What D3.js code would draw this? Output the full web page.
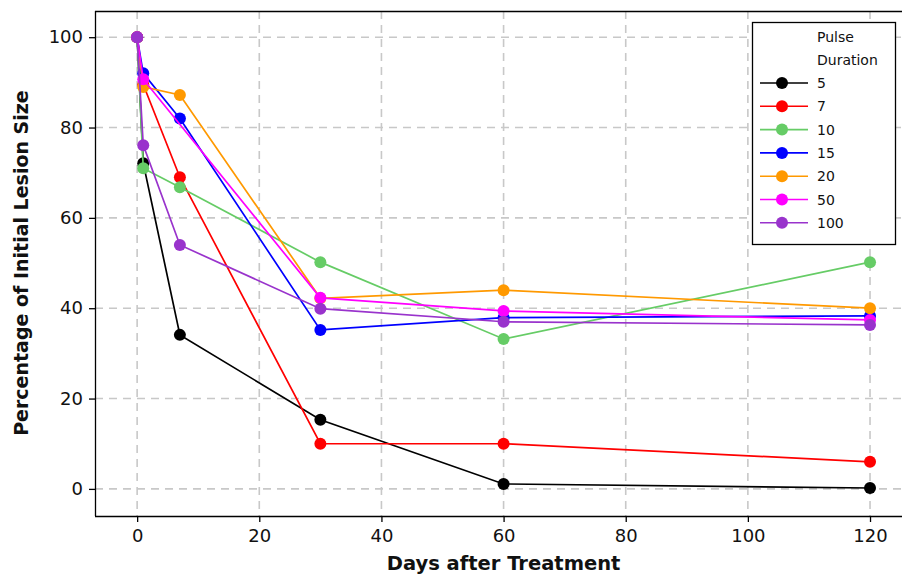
<!DOCTYPE html>
<html>
<head>
<meta charset="utf-8">
<script src="https://cdn.jsdelivr.net/npm/d3@7/dist/d3.min.js"></script>
<style>
  html, body { margin: 0; padding: 0; background: #fff; }
  svg { display: block; font-family: "DejaVu Sans", Verdana, sans-serif; }
</style>
</head>
<body>
<svg id="chart" width="902" height="576"></svg>
<script>
// Days after treatment at which each lesion was measured
const days = [0, 1, 7, 30, 60, 120];

// Pulse durations (legend order) and their colours
const pulseLabels = ["5", "7", "10", "15", "20", "50", "100"];
const pulseColors = ["#000000", "#ff0000", "#66cc66", "#0000ff", "#ff9900", "#ff00ff", "#9933cc"];

// Percentage of initial lesion size per pulse duration (null = not measured)
const pulse5   = [100, 72.1, 34.1, 15.3, 1.1, 0.2];
const pulse7   = [100, 89.5, 69.0, 10.0, 10.0, 6.0];
const pulse10  = [100, 71.0, 66.8, 50.2, 33.2, 50.2];
const pulse15  = [100, 92.0, 82.0, 35.2, 37.9, 38.3];
const pulse20  = [100, 89.0, 87.2, 42.2, 44.0, 40.0];
const pulse50  = [100, 90.7, null, 42.3, 39.4, 37.4];
const pulse100 = [100, 76.1, 54.0, 39.9, 37.0, 36.3];

const seriesValues = [pulse5, pulse7, pulse10, pulse15, pulse20, pulse50, pulse100];

const xTicks = [0, 20, 40, 60, 80, 100, 120];
const yTicks = [0, 20, 40, 60, 80, 100];

const svg = d3.select("#chart");
const margin = { left: 95, top: 11, right: 903, bottom: 516 };

const x = d3.scaleLinear().domain([-6.9, 125.4]).range([margin.left, margin.right]);
const y = d3.scaleLinear().domain([-6.0, 105.8]).range([margin.bottom, margin.top]);

// Dashed grid
const grid = svg.append("g").attr("stroke", "#c8c8c8").attr("stroke-width", 1.6)
  .attr("stroke-dasharray", "8,6");
grid.selectAll("line.v").data(xTicks).join("line")
  .attr("x1", d => x(d)).attr("x2", d => x(d))
  .attr("y1", margin.top).attr("y2", margin.bottom);
grid.selectAll("line.h").data(yTicks).join("line")
  .attr("x1", margin.left).attr("x2", margin.right)
  .attr("y1", d => y(d)).attr("y2", d => y(d));

// Frame top line
svg.append("line")
  .attr("x1", margin.left).attr("x2", margin.right)
  .attr("y1", margin.top + 0.5).attr("y2", margin.top + 0.5)
  .attr("stroke", "#000").attr("stroke-width", 1.3);

// Axes
const xAxis = svg.append("g").attr("transform", `translate(0,${margin.bottom})`)
  .call(d3.axisBottom(x).tickValues(xTicks).tickSizeOuter(0).tickSize(6).tickPadding(6));
const yAxis = svg.append("g").attr("transform", `translate(${margin.left},0)`)
  .call(d3.axisLeft(y).tickValues(yTicks).tickSizeOuter(0).tickSize(6).tickPadding(6));

[xAxis, yAxis].forEach(a => {
  a.select(".domain").attr("stroke", "#000").attr("stroke-width", 1.3);
  a.selectAll(".tick line").attr("stroke", "#000").attr("stroke-width", 1.3);
  a.selectAll(".tick text").attr("fill", "#111").style("font-size", "18px")
    .style("font-family", "DejaVu Sans, Verdana, sans-serif");
});
xAxis.select(".domain").attr("d", `M${margin.left},0.5H${margin.right}`);
yAxis.select(".domain").attr("d", `M0.5,${margin.top}V${margin.bottom}`);
xAxis.selectAll(".tick text").attr("dy", "0.8em");

// Axis titles
svg.append("text")
  .attr("x", x(60)).attr("y", 570)
  .attr("text-anchor", "middle")
  .style("font-size", "19.5px").style("font-weight", "bold")
  .attr("fill", "#111")
  .text("Days after Treatment");
svg.append("text")
  .attr("transform", `translate(28,${y(50)}) rotate(-90)`)
  .attr("text-anchor", "middle")
  .style("font-size", "19px").style("font-weight", "bold")
  .attr("fill", "#111")
  .text("Percentage of Initial Lesion Size");

// Series lines and markers
const line = d3.line()
  .defined(d => d.v !== null)
  .x(d => x(d.t)).y(d => y(d.v));

seriesValues.forEach((vals, i) => {
  const pts = days.map((t, j) => ({ t, v: vals[j] })).filter(d => d.v !== null);
  const g = svg.append("g");
  g.append("path").datum(pts)
    .attr("d", line)
    .attr("fill", "none")
    .attr("stroke", pulseColors[i])
    .attr("stroke-width", 1.7);
  g.selectAll("circle").data(pts).join("circle")
    .attr("cx", d => x(d.t)).attr("cy", d => y(d.v))
    .attr("r", 6)
    .attr("fill", pulseColors[i]);
});

// Legend
const legend = svg.append("g").attr("transform", "translate(752,22)");
legend.append("rect")
  .attr("x", 0.5).attr("y", 0.5).attr("width", 143).attr("height", 222)
  .attr("fill", "#fff").attr("stroke", "#000").attr("stroke-width", 1.3);
legend.append("text").attr("x", 65).attr("y", 20).style("font-size", "14px").attr("fill", "#111").text("Pulse");
legend.append("text").attr("x", 65).attr("y", 43).style("font-size", "14px").attr("fill", "#111").text("Duration");
pulseLabels.forEach((lab, i) => {
  const cy = 61 + i * 23.3;
  legend.append("line")
    .attr("x1", 8).attr("x2", 56).attr("y1", cy).attr("y2", cy)
    .attr("stroke", pulseColors[i]).attr("stroke-width", 1.6);
  legend.append("circle").attr("cx", 30).attr("cy", cy).attr("r", 6).attr("fill", pulseColors[i]);
  legend.append("text").attr("x", 65).attr("y", cy + 5)
    .style("font-size", "14px").attr("fill", "#111").text(lab);
});
</script>
</body>
</html>
